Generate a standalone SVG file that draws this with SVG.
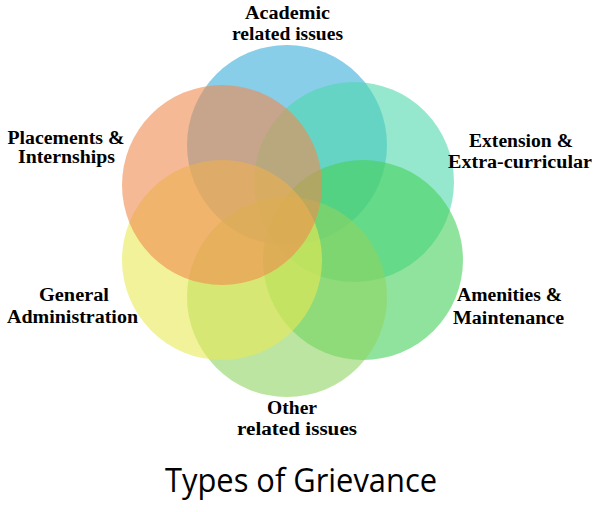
<svg xmlns="http://www.w3.org/2000/svg" width="600" height="512" viewBox="0 0 600 512">
<style>
.c{fill-opacity:0.6;stroke:none}
.t{font-family:"Liberation Serif","Times New Roman",serif;font-weight:bold;font-size:18px;fill:#000;text-anchor:middle}
.title{font-family:"Open Sans","Liberation Sans",sans-serif;font-size:33px;fill:#000;text-anchor:middle}
</style>
<rect width="600" height="512" fill="#fff"/>
<g id="academic"><circle class="c" cx="287" cy="145" r="100" fill="#3aaed8"/></g>
<g id="extension"><circle class="c" cx="354" cy="182" r="100" fill="#4ed9ac"/></g>
<g id="amenities"><circle class="c" cx="363" cy="260" r="100" fill="#46d05a"/></g>
<g id="other"><circle class="c" cx="287" cy="297" r="100" fill="#8fd462"/></g>
<g id="general"><circle class="c" cx="222" cy="260" r="100" fill="#e8ea55"/></g>
<g id="placements"><circle class="c" cx="222" cy="185" r="100" fill="#f08a4e"/></g>
<g id="labels">
<text class="t" x="287.5" y="18.5" textLength="85" lengthAdjust="spacingAndGlyphs">Academic</text>
<text class="t" x="287.5" y="40" textLength="111" lengthAdjust="spacingAndGlyphs">related issues</text>
<text class="t" x="66" y="144" textLength="117" lengthAdjust="spacingAndGlyphs">Placements &amp;</text>
<text class="t" x="66.5" y="163" textLength="97" lengthAdjust="spacingAndGlyphs">Internships</text>
<text class="t" x="521" y="147" textLength="104" lengthAdjust="spacingAndGlyphs">Extension &amp;</text>
<text class="t" x="520" y="168" textLength="144" lengthAdjust="spacingAndGlyphs">Extra-curricular</text>
<text class="t" x="74" y="301" textLength="70" lengthAdjust="spacingAndGlyphs">General</text>
<text class="t" x="72.5" y="323" textLength="131" lengthAdjust="spacingAndGlyphs">Administration</text>
<text class="t" x="509.5" y="301" textLength="105" lengthAdjust="spacingAndGlyphs">Amenities &amp;</text>
<text class="t" x="508.5" y="324" textLength="111" lengthAdjust="spacingAndGlyphs">Maintenance</text>
<text class="t" x="292" y="414" textLength="50" lengthAdjust="spacingAndGlyphs">Other</text>
<text class="t" x="297" y="435" textLength="120" lengthAdjust="spacingAndGlyphs">related issues</text>
</g>
<text class="title" x="301" y="491.5" textLength="272" lengthAdjust="spacingAndGlyphs">Types of Grievance</text>
</svg>
